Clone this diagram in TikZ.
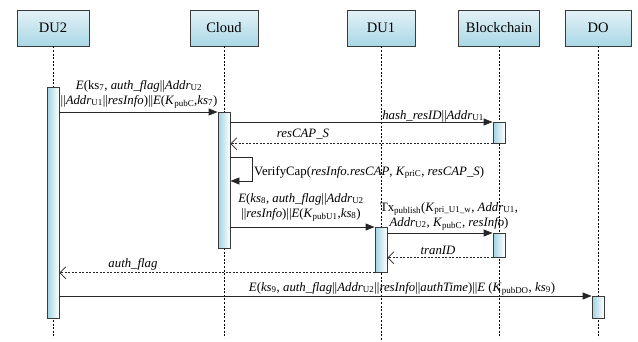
\documentclass[tikz,border=0pt]{standalone}
\usepackage{fontspec}
\setmainfont{Liberation Serif}
\usetikzlibrary{arrows.meta}
\newcommand\sbs[1]{\textsubscript{\upshape #1}}
\definecolor{boxtop}{HTML}{E4F2F7}
\definecolor{boxbot}{HTML}{A9D7E5}
\definecolor{barl}{HTML}{9FD2E2}
\definecolor{edgec}{HTML}{3A3A3A}
\begin{document}
\begin{tikzpicture}[x=1pt,y=-1pt,
  head/.style={draw=edgec,line width=0.8pt,top color=boxtop,bottom color=boxbot,
    minimum height=36pt,inner sep=0pt,font=\fontsize{14.5}{16}\selectfont},
  bar/.style={draw=edgec,line width=0.8pt,left color=barl,right color=white,
    minimum width=12pt,inner sep=0pt,anchor=north},
  life/.style={line width=0.6pt,dash pattern=on 2pt off 1.6pt},
  msg/.style={line width=0.8pt,draw=black!85,-{Triangle[length=9pt,width=7pt]}},
  ret/.style={line width=0.7pt,draw=black!85,dash pattern=on 2pt off 1.5pt,
    -{Straight Barb[length=6pt,width=12pt,line width=0.7pt]}},
  lbl/.style={font=\fontsize{12.8}{15}\selectfont,inner sep=0pt,align=center}]
\useasboundingbox (0,0) rectangle (638,341);
\fill[white] (0,0) rectangle (638,341);

% headers
\node[head,minimum width=72pt] (hdu2) at (53,28) {DU2};
\node[head,minimum width=68pt] (hcl) at (224,28) {Cloud};
\node[head,minimum width=68pt] (hdu1) at (381,28) {DU1};
\node[head,minimum width=81pt] (hbc) at (499,28) {Blockchain};
\node[head,minimum width=66pt] (hdo) at (598,28) {DO};

% lifeline ends
\coordinate (edu2) at (53,338);
\coordinate (ecl) at (224,338);
\coordinate (edu1) at (381,341);
\coordinate (ebc) at (499,338);
\coordinate (edo) at (598,338);
\draw[life] (hdu2.south) -- (edu2);
\draw[life] (hcl.south) -- (ecl);
\draw[life] (hdu1.south) -- (edu1);
\draw[life] (hbc.south) -- (ebc);
\draw[life] (hdo.south) -- (edo);

% activation bars
\node[bar,minimum height=231pt] (du2bar) at (53,87) {};
\node[bar,minimum height=136pt] (clbar) at (224,112) {};
\node[bar,minimum height=21pt] (bc1) at (499,122) {};
\node[bar,minimum height=45pt] (du1bar) at (381,227) {};
\node[bar,minimum height=24pt] (bc2) at (499,233) {};
\node[bar,minimum height=22pt] (dobar) at (598,296) {};

% messages
\draw[msg] (du2bar.east |- clbar.north) -- (clbar.north west);
\node[lbl,anchor=base] (l1) at (139,104) {\textit{E}(ks\sbs{7}, \textit{auth\_flag}||\textit{Addr}\sbs{U2}\\||\textit{Addr}\sbs{U1}||\textit{resInfo})||\textit{E}(\textit{K}\sbs{pubC},\textit{ks}\sbs{7})};

\draw[msg] (clbar.east |- bc1.north) -- (bc1.north west);
\node[lbl,anchor=base] (l2) at (433,119) {\textit{hash\_resID}||\textit{Addr}\sbs{U1}};

\draw[ret] (bc1.south west) -- (clbar.east |- bc1.south);
\node[lbl,anchor=base] (l3) at (303,137) {\textit{resCAP\_S}};

\draw[msg] (clbar.east |- 0,157) -- ++(22,0) -- ++(0,24) -- ++(-22,0);
\node[lbl,anchor=base west] (l4) at (254,175) {VerifyCap(\textit{resInfo.resCAP}, \textit{K}\sbs{priC}, \textit{resCAP\_S})};

\draw[msg] (clbar.east |- du1bar.north) -- (du1bar.north west);
\node[lbl,anchor=base] (l5) at (301,217) {\textit{E}(\textit{ks}\sbs{8}, \textit{auth\_flag}||\textit{Addr}\sbs{U2}\\||\textit{resInfo})||\textit{E}(\textit{K}\sbs{pubU1},\textit{ks}\sbs{8})};

\draw[msg] (du1bar.east |- bc2.north) -- (bc2.north west);
\node[lbl,anchor=base] (l6) at (449,226) {Tx\sbs{publish}(\textit{K}\sbs{pri\_U1\_w}, \textit{Addr}\sbs{U1},\\\textit{Addr}\sbs{U2}, \textit{K}\sbs{pubC}, \textit{resInfo})};

\draw[ret] (bc2.south west) -- (du1bar.east |- bc2.south);
\node[lbl,anchor=base] (l7) at (438,254) {\textit{tranID}};

\draw[ret] (du1bar.south west) -- (du2bar.east |- du1bar.south);
\node[lbl,anchor=base] (l8) at (133,267) {\textit{auth\_flag}};

\draw[msg] (du2bar.east |- dobar.north) -- (dobar.north west);
\node[lbl,anchor=base] (l9) at (402,291) {\textit{E}(\textit{ks}\sbs{9}, \textit{auth\_flag}||\textit{Addr}\sbs{U2}||\textit{resInfo}||\textit{authTime})||\textit{E} (\textit{K}\sbs{pubDO}, \textit{ks}\sbs{9})};
\end{tikzpicture}
\end{document}
